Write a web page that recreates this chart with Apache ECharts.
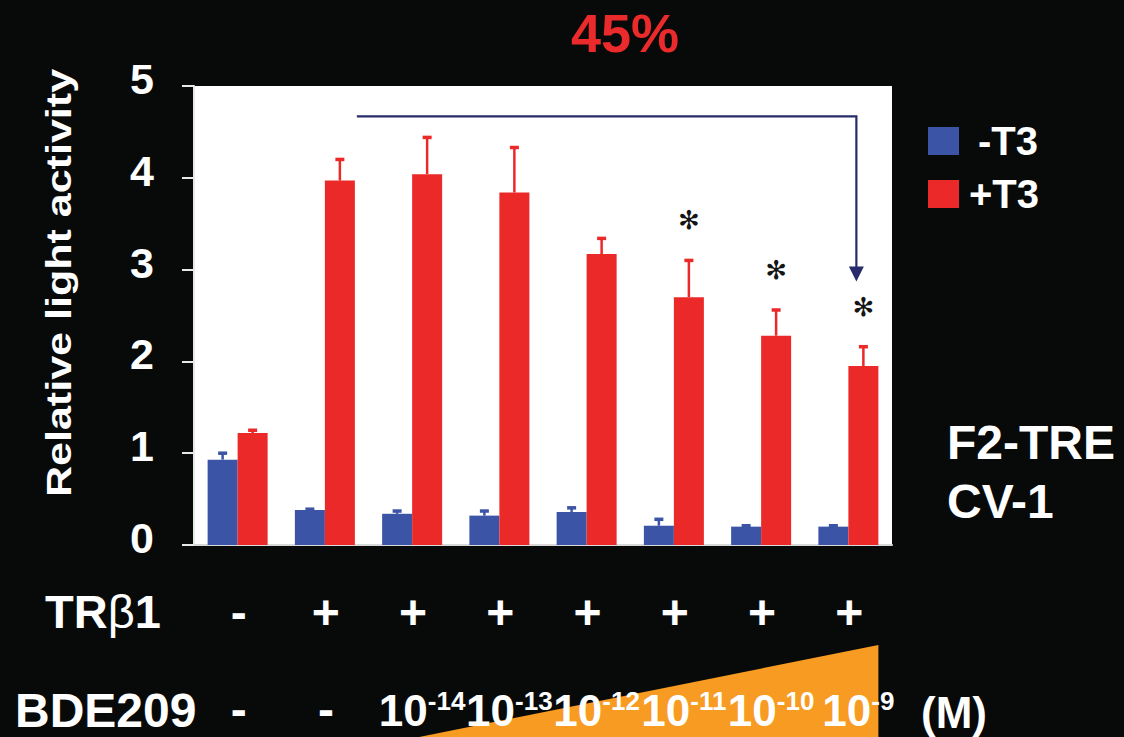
<!DOCTYPE html>
<html>
<head>
<meta charset="utf-8">
<script src="https://cdn.jsdelivr.net/npm/echarts@6/dist/echarts.min.js"></script>
<style>
  html, body { margin: 0; padding: 0; background: #080a09; }
  #chart { width: 1124px; height: 737px; }
</style>
</head>
<body>
<div id="chart"></div>
<script>
// Treatment groups (TRβ1 / BDE209 dose)
const categories = ['ctrl', 'TRb1', '1e-14', '1e-13', '1e-12', '1e-11', '1e-10', '1e-9'];
const trLabels = ['-', '+', '+', '+', '+', '+', '+', '+'];
const bdeExponents = [null, null, -14, -13, -12, -11, -10, -9];

// Relative light activity, mean and upper error (SD)
const minusT3 = [0.93, 0.38, 0.34, 0.32, 0.36, 0.21, 0.20, 0.20];
const minusT3Err = [0.07, 0.01, 0.03, 0.05, 0.045, 0.07, 0.01, 0.01];
const plusT3 = [1.22, 3.97, 4.04, 3.84, 3.17, 2.70, 2.28, 1.95];
const plusT3Err = [0.03, 0.23, 0.40, 0.49, 0.17, 0.40, 0.28, 0.21];
const significant = [0, 0, 0, 0, 0, 1, 1, 1];

const yTicks = [0, 1, 2, 3, 4, 5];

const FONT = '"Liberation Sans", Arial, Helvetica, sans-serif';
const BLUE = '#3b54a5';
const RED = '#eb2929';
const NAVY = '#272b6b';
const ORANGE = '#f89b22';
const BAR_W = 30;

function errorBars(offset, color) {
  return function (params, api) {
    const i = api.value(0);
    const v = api.value(1);
    const e = api.value(2);
    const star = api.value(3);
    const base = api.coord([i, v]);
    const top = api.coord([i, v + e]);
    const x = base[0] + offset;
    const children = [
      { type: 'line', shape: { x1: x, y1: base[1], x2: x, y2: top[1] },
        style: { stroke: color, lineWidth: 2.5 } },
      { type: 'line', shape: { x1: x - 4.5, y1: top[1], x2: x + 4.5, y2: top[1] },
        style: { stroke: color, lineWidth: 3.5 } }
    ];
    if (star) {
      children.push({
        type: 'text', x: x, y: top[1] - 40,
        style: { text: '✻', fill: '#151515', font: 'bold 26px "DejaVu Sans", sans-serif',
                 align: 'center', verticalAlign: 'middle', textAlign: 'center', textVerticalAlign: 'middle' }
      });
    }
    return { type: 'group', children: children };
  };
}

const chart = echarts.init(document.getElementById('chart'), null, { renderer: 'svg' });

chart.setOption({
  backgroundColor: '#080a09',
  animation: false,
  grid: { left: 194, right: 232, top: 86, bottom: 192, show: true, backgroundColor: '#ffffff', borderWidth: 0 },
  legend: {
    orient: 'vertical', left: 923, top: 116,
    itemWidth: 31, itemHeight: 28, itemGap: 13, icon: 'rect',
    textStyle: { color: '#ffffff', fontSize: 40, fontWeight: 'bold', fontFamily: FONT, lineHeight: 40, padding: [0, 0, 0, 5] },
    data: [
      { name: '-T3', textStyle: { padding: [0, 0, 0, 14] } },
      { name: '+T3' }
    ]
  },
  xAxis: {
    type: 'category', data: categories, boundaryGap: true,
    axisLine: { show: true, lineStyle: { color: '#d8d8d8', width: 2 } },
    axisTick: { show: false }, axisLabel: { show: false }
  },
  yAxis: {
    type: 'value', min: yTicks[0], max: yTicks[yTicks.length - 1], interval: 1,
    splitLine: { show: false },
    axisLine: { show: true, lineStyle: { color: '#e8e8e8', width: 2 } },
    axisTick: { show: true, length: 12, lineStyle: { color: '#e8e8e8', width: 2 } },
    axisLabel: { color: '#ffffff', fontSize: 43, fontWeight: 'bold', fontFamily: FONT, margin: 40,
                 verticalAlign: 'bottom', lineHeight: 14 }
  },
  series: [
    { name: '-T3', type: 'bar', data: minusT3, barWidth: BAR_W, barGap: '0%', itemStyle: { color: BLUE } },
    { name: '+T3', type: 'bar', data: plusT3, barWidth: BAR_W, barGap: '0%', itemStyle: { color: RED } },
    { type: 'custom', encode: { x: 0, y: 1 }, z: 3,
      data: minusT3.map((v, i) => [i, v, minusT3Err[i], 0]),
      renderItem: errorBars(-BAR_W / 2, BLUE) },
    { type: 'custom', encode: { x: 0, y: 1 }, z: 3,
      data: plusT3.map((v, i) => [i, v, plusT3Err[i], significant[i]]),
      renderItem: errorBars(BAR_W / 2, RED) },
    // bracket arrow from the TRβ1 + T3 column down to the highest dose
    { type: 'custom', encode: { x: [0, 2], y: [1, 3] }, z: 4,
      data: [[1, 4.67, 7, 2.87]],
      renderItem: function (params, api) {
        const a = api.coord([api.value(0), api.value(1)]);
        const b = api.coord([api.value(2), api.value(3)]);
        const x1 = a[0] + 32, x2 = b[0] + 8, y1 = a[1], y2 = b[1];
        return { type: 'group', children: [
          { type: 'polyline', shape: { points: [[x1, y1], [x2, y1], [x2, y2 - 14]] },
            style: { stroke: NAVY, lineWidth: 2.2, fill: null } },
          { type: 'polygon', shape: { points: [[x2 - 7.5, y2 - 15], [x2 + 7.5, y2 - 15], [x2, y2]] },
            style: { fill: NAVY } }
        ] };
      } }
  ]
});

const cx = i => chart.convertToPixel({ xAxisIndex: 0 }, i);

function txt(text, x, y, size, align, color) {
  return {
    type: 'text', x: x, y: y, z: 10,
    style: { text: text, fill: color || '#ffffff', font: 'bold ' + size + 'px ' + FONT,
             align: align, verticalAlign: 'middle', textAlign: align, textVerticalAlign: 'middle' }
  };
}

const graphics = [];

// concentration wedge under the BDE209 row
graphics.push({
  type: 'polygon', z: 1,
  shape: { points: [[cx(2) + 7, 737], [cx(7) + BAR_W, 645], [cx(7) + BAR_W, 737]] },
  style: { fill: ORANGE }
});

graphics.push(txt('45%', 625, 33, 54, 'center', '#ea2a2b'));

graphics.push({
  type: 'text', x: 59, y: 283, z: 10, rotation: Math.PI / 2, scaleX: 1.23,
  style: { text: 'Relative light activity', fill: '#ffffff', font: 'bold 35px ' + FONT,
           align: 'center', verticalAlign: 'middle', textAlign: 'center', textVerticalAlign: 'middle' }
});

graphics.push(txt('F2-TRE', 947, 442, 48, 'left'));
graphics.push(txt('CV-1', 947, 501, 48, 'left'));

graphics.push({
  type: 'text', x: 45, y: 611, z: 10,
  style: {
    text: '{a|TR}{g|β}{a|1}', align: 'left', verticalAlign: 'middle', textAlign: 'left', textVerticalAlign: 'middle',
    rich: {
      a: { fill: '#ffffff', fontSize: 47, fontWeight: 'bold', fontFamily: FONT, lineHeight: 50 },
      g: { fill: '#ffffff', fontSize: 47, fontWeight: 'normal', fontFamily: FONT, lineHeight: 50 }
    }
  }
});
graphics.push(txt('BDE209', 15, 710, 48, 'left'));

trLabels.forEach((s, i) => graphics.push(txt(s, cx(i) + 1, 612, 48, 'center')));

bdeExponents.forEach((n, i) => {
  if (n === null) {
    graphics.push(txt('-', cx(i) + 1, 709, 48, 'center'));
  } else {
    graphics.push({
      type: 'text', x: cx(i) + 10, y: 710, z: 10,
      style: {
        text: '{b|10}{s|' + n + '}', align: 'center', verticalAlign: 'middle',
        textAlign: 'center', textVerticalAlign: 'middle',
        rich: {
          b: { fill: '#ffffff', fontSize: 44, fontWeight: 'bold', fontFamily: FONT, lineHeight: 44, verticalAlign: 'bottom' },
          s: { fill: '#ffffff', fontSize: 26, fontWeight: 'bold', fontFamily: FONT, lineHeight: 24, verticalAlign: 'top' }
        }
      }
    });
  }
});
graphics.push(txt('(M)', 921, 712, 44, 'left'));

chart.setOption({ graphic: graphics });
</script>
</body>
</html>
